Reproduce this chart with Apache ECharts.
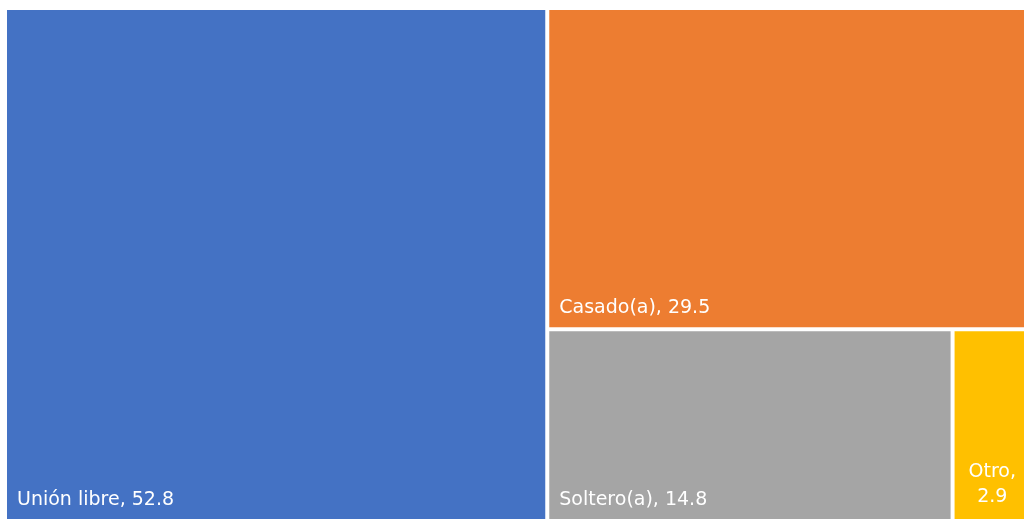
<!DOCTYPE html>
<html>
<head>
<meta charset="utf-8">
<script src="https://cdn.jsdelivr.net/npm/echarts@6/dist/echarts.min.js"></script>
<style>
  html, body { margin: 0; padding: 0; background: #fff; }
  #chart { width: 1024px; height: 519px; }
</style>
</head>
<body>
<div id="chart"></div>
<script>
const categories = ['Unión libre', 'Casado(a)', 'Soltero(a)', 'Otro']
const values = [52.8, 29.5, 14.8, 2.9]
const colors = ['#4472C4', '#ED7D31', '#A5A5A5', '#FFC000']

const chart = echarts.init(document.getElementById('chart'))

const data = categories.map((name, i) => {
  const item = {
    name: name,
    value: values[i],
    itemStyle: { color: colors[i] }
  }
  // la celda pequeña parte la etiqueta en dos líneas
  if (name === 'Otro') {
    item.label = {
      position: 'insideBottom',
      align: 'center',
      formatter: '{b},\n{c}',
      lineHeight: 25
    }
  }
  return item
})

chart.setOption({
  animation: false,
  series: [{
    type: 'treemap',
    left: 7,
    top: 10,
    width: 1023,
    height: 510,
    roam: false,
    nodeClick: false,
    squareRatio: 1,
    breadcrumb: { show: false },
    label: {
      show: true,
      position: 'insideBottomLeft',
      distance: 5,
      formatter: '{b}, {c}',
      color: '#fff',
      fontFamily: 'DejaVu Sans',
      fontSize: 19
    },
    upperLabel: { show: false },
    itemStyle: { borderWidth: 0, gapWidth: 4, borderColor: '#fff' },
    levels: [{ itemStyle: { borderWidth: 0, gapWidth: 4 } }],
    data: data
  }]
})
</script>
</body>
</html>
